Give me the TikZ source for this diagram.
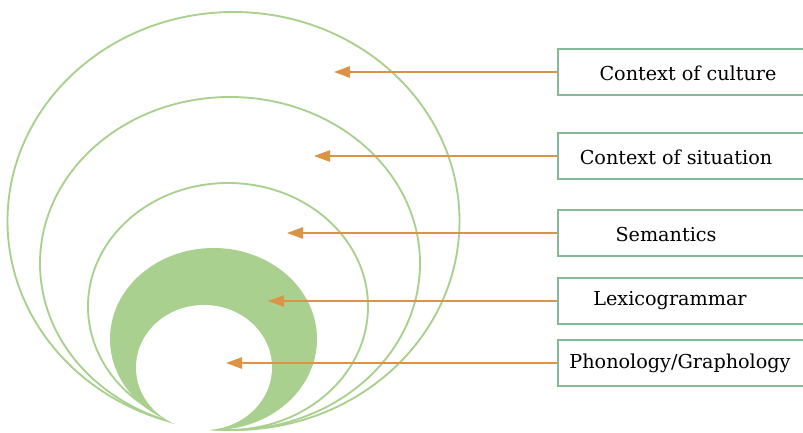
\documentclass[tikz,border=0pt]{standalone}
\usepackage{fontspec}
\setmainfont{DejaVu Serif}
\usetikzlibrary{arrows.meta}
\definecolor{ringgreen}{HTML}{A9D08E}
\definecolor{boxgreen}{HTML}{84B896}
\definecolor{arrorange}{HTML}{DB9446}
\tikzset{
  ring/.style={draw=ringgreen, line width=1.4pt},
  box/.style={draw=boxgreen, line width=1.3pt, minimum width=186pt, minimum height=34.5pt, anchor=west, inner sep=0pt},
  lbl/.style={font=\fontsize{14.4}{17}\selectfont, inner sep=0pt, text=black},
  arr/.style={draw=arrorange, line width=1.2pt, -{Triangle[length=12pt, width=8.5pt, fill=arrorange]}}
}
\begin{document}
\begin{tikzpicture}[x=0.75pt, y=-0.75pt]
\useasboundingbox (0,0) rectangle (803,432);
% nested ellipses
\draw[ring] (233.5,221) ellipse [x radius=226, y radius=209];
\draw[ring] (230,263.5) ellipse [x radius=190, y radius=166.5];
\draw[ring] (228,306.5) ellipse [x radius=140, y radius=123.5];
\fill[ringgreen] (213.5,339) ellipse [x radius=103.5, y radius=91];
\fill[white] (204,367.5) ellipse [x radius=68, y radius=62.5];
% boxes
\node[box] (b1) at (557,72) {};
\node[box] (b2) at (557,156) {};
\node[box] (b3) at (557,233) {};
\node[box] (b4) at (557,301) {};
\node[box] (b5) at (557,363) {};
% labels
\node[lbl] (l1) at (688,73) {Context of culture};
\node[lbl] (l2) at (676,157) {Context of situation};
\node[lbl] (l3) at (666,235) {Semantics};
\node[lbl] (l4) at (670,301) {Lexicogrammar};
\node[lbl] (l5) at (680,363) {Phonology/Graphology};
% targets
\coordinate (t1) at (334,72);
\coordinate (t2) at (314,156);
\coordinate (t3) at (287,233);
\coordinate (t4) at (268,301);
\coordinate (t5) at (226,363);
\draw[arr] (b1.west) -- (t1);
\draw[arr] (b2.west) -- (t2);
\draw[arr] (b3.west) -- (t3);
\draw[arr] (b4.west) -- (t4);
\draw[arr] (b5.west) -- (t5);
\end{tikzpicture}
\end{document}
